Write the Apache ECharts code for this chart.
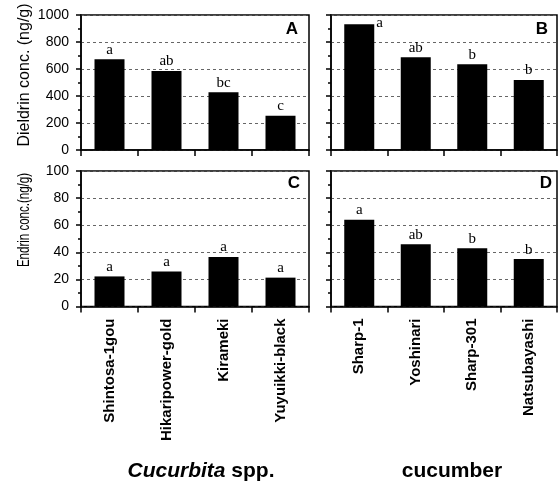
<!DOCTYPE html>
<html>
<head>
<meta charset="utf-8">
<script src="https://cdn.jsdelivr.net/npm/echarts@6/dist/echarts.min.js"></script>
<style>
  html, body { margin: 0; padding: 0; background: #fff; }
  #chart { width: 558px; height: 481px; }
</style>
</head>
<body>
<div id="chart"></div>
<script>
// categories
const cucurbitaNames = ['Shintosa-1gou', 'Hikaripower-gold', 'Kirameki', 'Yuyuikki-black'];
const cucumberNames = ['Sharp-1', 'Yoshinari', 'Sharp-301', 'Natsubayashi'];

// values (ng/g)
const dieldrinCucurbita = [672, 585, 427, 254];
const dieldrinCucumber = [931, 687, 635, 519];
const endrinCucurbita = [22.2, 25.9, 36.5, 21.3];
const endrinCucumber = [64, 46, 43, 35];

// significance letters
const lettersA = ['a', 'ab', 'bc', 'c'];
const lettersB = ['a', 'ab', 'b', 'b'];
const lettersC = ['a', 'a', 'a', 'a'];
const lettersD = ['a', 'ab', 'b', 'b'];

const sans = 'Liberation Sans, Arial, sans-serif';
const serif = 'Liberation Serif, Times New Roman, serif';

const chart = echarts.init(document.getElementById('chart'));

const grids = [
    {left: 81, top: 15, width: 228, height: 135},
    {left: 331, top: 15, width: 226, height: 135},
    {left: 81, top: 171, width: 228, height: 135.5},
    {left: 331, top: 171, width: 226, height: 135.5}
].map(g => Object.assign(g, {show: true, borderColor: '#000', borderWidth: 1.5, containLabel: false}));

const xAxis = [cucurbitaNames, cucumberNames, cucurbitaNames, cucumberNames].map((names, i) => ({
    type: 'category',
    gridIndex: i,
    data: names,
    axisLine: {lineStyle: {color: '#000', width: 1.5}},
    axisTick: {show: true, interval: 0, length: 6, lineStyle: {color: '#000', width: 1.5}},
    axisLabel: {
        show: i >= 2,
        interval: 0,
        rotate: 90,
        margin: 12,
        color: '#000',
        fontFamily: sans,
        fontWeight: 'bold',
        fontSize: 15
    }
}));

const yAxis = [0, 1, 2, 3].map(i => ({
    type: 'value',
    gridIndex: i,
    min: 0,
    max: i < 2 ? 1000 : 100,
    interval: i < 2 ? 200 : 20,
    axisLine: {show: true, lineStyle: {color: '#000', width: 1.5}},
    axisTick: {show: true, length: 5, lineStyle: {color: '#000', width: 1.5}},
    minorTick: {show: true, splitNumber: 2, length: 3, lineStyle: {color: '#000', width: 1.5}},
    splitLine: {show: true, lineStyle: {color: '#666', width: 1, type: [3, 3]}},
    axisLabel: {
        show: i % 2 === 0,
        margin: 12,
        color: '#000',
        fontFamily: sans,
        fontSize: 14,
        formatter: v => String(v)
    }
}));

function barSeries(idx, values, letters) {
    return {
        type: 'bar',
        xAxisIndex: idx,
        yAxisIndex: idx,
        barWidth: 30,
        itemStyle: {color: '#000'},
        data: values.map((v, j) => {
            const item = {value: v, label: {formatter: letters[j]}};
            // the tallest cucumber bar has its letter beside the bar top
            if (idx === 1 && j === 0) {
                item.label.position = ['100%', 0];
                item.label.offset = [2, -9];
            }
            return item;
        }),
        label: {
            show: true,
            position: 'top',
            distance: 2,
            color: '#000',
            fontFamily: serif,
            fontSize: 15
        }
    };
}

const panelFont = 'bold 17px ' + sans;

chart.setOption({
    animation: false,
    title: [
        {
            text: '{i|Cucurbita} spp.',
            left: 196, top: 456, textAlign: 'center',
            textStyle: {
                fontFamily: sans, fontSize: 21, fontWeight: 'bold', color: '#000',
                rich: {i: {fontFamily: sans, fontSize: 21, fontWeight: 'bold', fontStyle: 'italic', color: '#000'}}
            }
        },
        {
            text: 'cucumber',
            left: 447, top: 456, textAlign: 'center',
            textStyle: {fontFamily: sans, fontSize: 21, fontWeight: 'bold', color: '#000'}
        }
    ],
    grid: grids,
    xAxis: xAxis,
    yAxis: yAxis,
    series: [
        barSeries(0, dieldrinCucurbita, lettersA),
        barSeries(1, dieldrinCucumber, lettersB),
        barSeries(2, endrinCucurbita, lettersC),
        barSeries(3, endrinCucumber, lettersD)
    ],
    graphic: [
        {type: 'text', x: 25, y: 75, rotation: Math.PI / 2,
            style: {text: 'Dieldrin conc. (ng/g)', font: '16px ' + sans, fill: '#000', align: 'center', verticalAlign: 'middle'}},
        {type: 'text', x: 25, y: 220, rotation: Math.PI / 2, scaleX: 0.72,
            style: {text: 'Endrin conc.(ng/g)', font: '16px ' + sans, fill: '#000', align: 'center', verticalAlign: 'middle'}},
        {type: 'text', x: 298, y: 21, style: {text: 'A', font: panelFont, fill: '#000', align: 'right', verticalAlign: 'top'}},
        {type: 'text', x: 548, y: 21, style: {text: 'B', font: panelFont, fill: '#000', align: 'right', verticalAlign: 'top'}},
        {type: 'text', x: 300, y: 175, style: {text: 'C', font: panelFont, fill: '#000', align: 'right', verticalAlign: 'top'}},
        {type: 'text', x: 552, y: 175, style: {text: 'D', font: panelFont, fill: '#000', align: 'right', verticalAlign: 'top'}}
    ]
});
</script>
</body>
</html>
